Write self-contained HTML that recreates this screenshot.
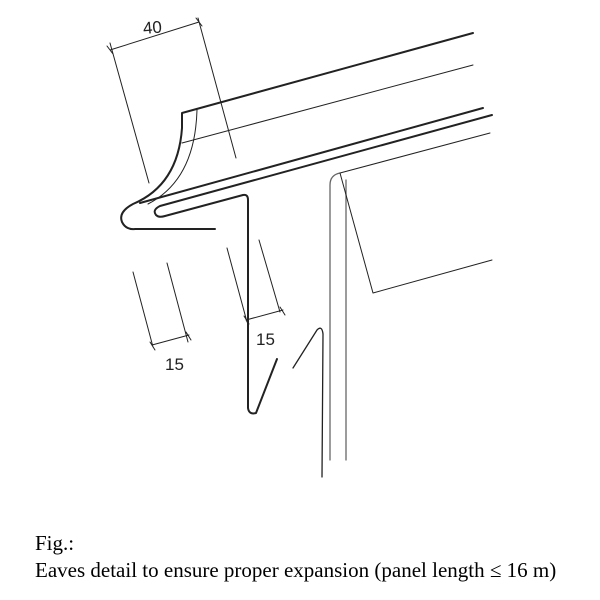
<!DOCTYPE html>
<html><head><style>
body{margin:0;width:600px;height:600px;background:#fff;overflow:hidden;position:relative}
.c{position:absolute;left:35px;font-family:"Liberation Serif",serif;font-size:21px;color:#000;white-space:nowrap}
</style></head><body>
<svg width="600" height="600" style="position:absolute;left:0;top:0" fill="none" stroke="#222" stroke-linecap="round" stroke-linejoin="round">
<path d="M473,33 L182,113 L182,128 Q178,185 133,204 Q118,212 122,222 Q126,230 135,229 L215,229" stroke-width="2"/>
<path d="M197,110 Q195,180 148,204" stroke-width="1"/>
<path d="M473,65 L182,143" stroke-width="1"/>
<path d="M483,108 L140,203" stroke-width="2"/>
<path d="M492,115 L160,206 Q152,210 156,215 Q159,218 165,216 L243,195 Q248,194 248,200 L248,408 Q249,415 256,413 L277,359" stroke-width="2"/>
<path d="M490,133 L340,173" stroke-width="1"/>
<path d="M340,173 Q330,175 330,185 L330,460" stroke-width="1.3" stroke="#666"/>
<path d="M346,180 L346,460" stroke-width="1.3" stroke="#666"/>
<path d="M340,173 L373,293 L492,260" stroke-width="1"/>
<path d="M293,368 L317,330 Q322,325 323,334 L322,477" stroke-width="1.3"/>
<path d="M110,43 L149,183 M198,18 L236,158 M110,50 L199,22 M107,46 L113,54 M196,18 L202,26" stroke-width="1"/>
<path d="M133,272 L153,347 M167,263 L188,342 M152,345 L189,335 M150,342 L155,350 M186,332 L191,340" stroke-width="1"/>
<path d="M227,248 L247,322 M259,240 L280,312 M246,320 L283,310 M244,316 L249,324 M280,307 L285,315" stroke-width="1"/>
<g fill="#222" stroke="none" font-family="Liberation Sans, sans-serif" font-size="17">
<text x="143" y="33" transform="rotate(-5 155 28)">40</text>
<text x="165" y="370">15</text>
<text x="256" y="345">15</text>
</g>
</svg>
<div class="c" style="top:531px">Fig.:</div>
<div class="c" style="top:558px">Eaves detail to ensure proper expansion (panel length ≤ 16 m)</div>
</body></html>
